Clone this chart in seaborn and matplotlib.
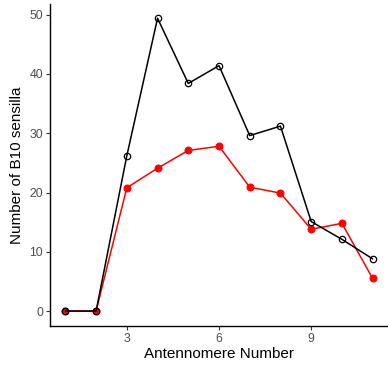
import matplotlib
matplotlib.use("Agg")
import matplotlib.pyplot as plt
import seaborn as sns
import pandas as pd

antennomere = [1, 2, 3, 4, 5, 6, 7, 8, 9, 10, 11]
black_series = [0, 0, 26.2, 49.4, 38.4, 41.4, 29.6, 31.2, 15.1, 12.1, 8.8]
red_series = [0, 0, 20.8, 24.1, 27.1, 27.8, 20.9, 19.9, 13.8, 14.8, 5.5]
x_ticks = [3, 6, 9]
y_ticks = [0, 10, 20, 30, 40, 50]

sns.set_style("white")
plt.rcParams['font.family'] = ['Liberation Sans', 'DejaVu Sans']

df = pd.DataFrame({"x": antennomere, "black": black_series, "red": red_series})

fig = plt.figure(figsize=(3.88, 3.65), dpi=100)
ax = fig.add_axes([50/388, 1 - 325.7/365, 338/388, (325.7 - 4)/365])

sns.lineplot(data=df, x="x", y="red", ax=ax, color="red", lw=1.1,
             marker="o", markersize=5, markerfacecolor="red", markeredgecolor="red")
sns.lineplot(data=df, x="x", y="black", ax=ax, color="black", lw=1.1,
             marker="o", markersize=4.6, markerfacecolor="none", markeredgecolor="black",
             markeredgewidth=0.9)

ax.set_xlim(0.5, 11.5)
ax.set_ylim(-2.47, 51.8)
ax.set_xticks(x_ticks)
ax.set_yticks(y_ticks)
ax.set_xlabel("Antennomere Number", fontsize=11, color="black", labelpad=2)
ax.set_ylabel("Number of B10 sensilla", fontsize=11, color="black", labelpad=4)
ax.tick_params(axis="both", labelsize=8.8, labelcolor="#4d4d4d", length=3, width=0.8,
               color="#333333", direction="out", bottom=True, left=True, pad=2)
for s in ["top", "right"]:
    ax.spines[s].set_visible(False)
for s in ["left", "bottom"]:
    ax.spines[s].set_color("black")
    ax.spines[s].set_linewidth(1.0)

fig.savefig("out.png", dpi=100)
